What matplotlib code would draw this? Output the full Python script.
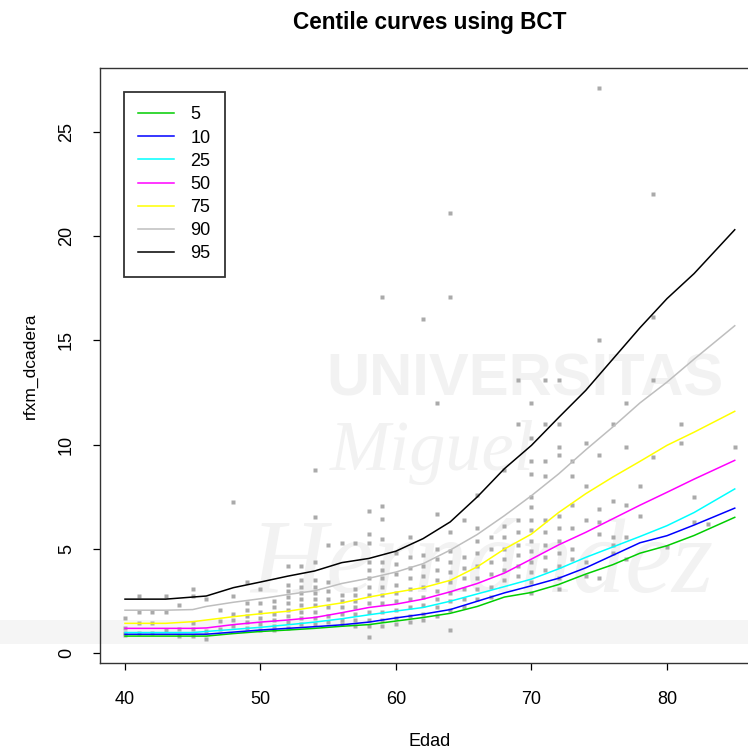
import matplotlib
matplotlib.use("Agg")
import matplotlib.pyplot as plt
from matplotlib.patches import Rectangle

plt.rcParams['font.family'] = ['Liberation Sans', 'DejaVu Sans']

# centile curves (age grid shared by all curves)
ages = [40, 43, 45, 46, 48, 50, 52, 54, 56, 58, 60, 62, 64, 66, 68, 70, 72, 74, 76, 78, 80, 82, 85]
c5 = [0.83, 0.83, 0.83, 0.83, 0.95, 1.05, 1.12, 1.20, 1.30, 1.38, 1.55, 1.72, 1.92, 2.25, 2.70, 2.92, 3.30, 3.80, 4.25, 4.80, 5.16, 5.65, 6.52]
c10 = [0.92, 0.92, 0.92, 0.92, 1.02, 1.12, 1.20, 1.28, 1.37, 1.50, 1.70, 1.88, 2.10, 2.50, 2.90, 3.24, 3.60, 4.10, 4.70, 5.30, 5.64, 6.15, 6.96]
c25 = [1.00, 1.00, 1.00, 1.05, 1.15, 1.25, 1.37, 1.50, 1.66, 1.85, 2.03, 2.20, 2.50, 2.85, 3.20, 3.56, 4.05, 4.60, 5.10, 5.60, 6.12, 6.75, 7.88]
c50 = [1.20, 1.20, 1.20, 1.22, 1.38, 1.50, 1.60, 1.72, 1.95, 2.20, 2.36, 2.60, 2.95, 3.35, 3.85, 4.52, 5.20, 5.80, 6.45, 7.10, 7.72, 8.35, 9.25]
c75 = [1.44, 1.44, 1.52, 1.60, 1.76, 1.90, 2.02, 2.22, 2.42, 2.70, 2.93, 3.15, 3.50, 4.15, 5.00, 5.72, 6.75, 7.65, 8.45, 9.20, 9.97, 10.6, 11.6]
c90 = [2.07, 2.07, 2.10, 2.25, 2.45, 2.62, 2.82, 3.00, 3.35, 3.60, 3.90, 4.30, 4.95, 5.70, 6.60, 7.56, 8.60, 9.75, 10.85, 12.0, 13.0, 14.1, 15.7]
c95 = [2.60, 2.60, 2.70, 2.75, 3.15, 3.42, 3.70, 3.95, 4.35, 4.55, 4.90, 5.50, 6.30, 7.50, 8.85, 9.97, 11.3, 12.6, 14.1, 15.6, 17.0, 18.2, 20.3]
centiles = ["5", "10", "25", "50", "75", "90", "95"]
colors = ["#00CD00", "#0000FF", "#00FFFF", "#FF00FF", "#FFFF00", "#BEBEBE", "#000000"]

# observations, grouped by age
obs_ages = list(range(40, 80)) + [80, 81, 82, 83, 85]
obs_vals = [
    [1.7, 1.2, 1.0, 0.9],
    [2.76, 1.96, 1.47, 1.0],
    [1.96, 1.47, 1.0],
    [2.76, 1.96, 1.1],
    [2.3, 1.15, 0.83],
    [3.08, 2.76, 1.47, 1.15, 0.83],
    [2.6, 1.07, 0.67],
    [2.1, 1.55, 1.15],
    [7.25, 2.76, 1.9, 1.6, 1.3],
    [3.4, 2.4, 2.1, 1.8, 1.5, 1.2],
    [3.1, 2.4, 2.0, 1.7, 1.4, 1.1],
    [2.5, 2.2, 1.9, 1.6, 1.3, 1.1],
    [4.2, 3.3, 3.0, 2.7, 2.4, 2.1, 1.8, 1.5, 1.2],
    [4.2, 3.5, 3.2, 2.9, 2.6, 2.3, 2.0, 1.7, 1.4],
    [8.8, 6.55, 4.4, 3.5, 3.2, 2.9, 2.6, 2.3, 2.0, 1.7, 1.4],
    [5.2, 3.4, 3.0, 2.6, 2.2, 1.8, 1.5],
    [5.3, 2.8, 2.5, 2.2, 1.9, 1.6, 1.4],
    [5.3, 3.1, 2.8, 2.5, 2.2, 1.9, 1.6, 1.3],
    [6.8, 5.7, 5.3, 4.4, 4.0, 3.6, 3.2, 2.8, 2.4, 2.0, 1.6, 1.3, 0.8],
    [17.1, 7.05, 6.45, 5.5, 4.4, 4.0, 3.6, 3.2, 2.8, 2.4, 2.0, 1.6, 1.3],
    [4.8, 4.3, 3.8, 3.3, 2.9, 2.5, 2.1, 1.7, 1.4],
    [5.6, 4.6, 4.1, 3.6, 3.1, 2.6, 2.2, 1.8, 1.5],
    [16.0, 4.7, 4.2, 3.7, 3.2, 2.7, 2.3, 1.9, 1.6],
    [12.0, 6.7, 5.0, 4.5, 4.0, 3.5, 3.0, 2.6, 2.2, 1.8],
    [21.1, 17.1, 5.8, 4.9, 4.4, 3.9, 3.4, 2.9, 2.5, 2.1, 1.1],
    [6.4, 4.6, 4.1, 3.6, 3.1, 2.6, 2.2],
    [7.6, 6.0, 5.4, 4.8, 4.2, 3.6, 3.1, 2.6],
    [5.6, 5.0, 4.4, 3.8, 3.2, 2.7],
    [8.8, 6.1, 5.6, 5.0, 4.5, 4.0, 3.5],
    [13.1, 11.0, 6.4, 5.8, 5.2, 4.7, 4.2, 3.7],
    [12.0, 10.3, 9.2, 8.6, 7.5, 7.0, 6.4, 5.9, 5.4, 4.9, 4.4, 3.9, 3.4, 2.9],
    [13.1, 11.0, 9.2, 8.5, 6.4, 5.8, 5.2, 4.6, 4.0],
    [13.1, 11.0, 9.9, 9.5, 6.6, 6.0, 5.4, 4.8, 4.2, 3.6, 3.1],
    [9.2, 8.5, 7.1, 6.0, 5.0, 4.5],
    [10.1, 8.0, 6.4, 4.4, 3.7],
    [27.1, 15.0, 9.5, 6.9, 6.3, 5.7, 3.6],
    [11.0, 7.3, 5.6, 5.2, 4.8],
    [12.0, 9.9, 7.1, 5.6, 4.5],
    [8.0, 6.6],
    [22.0, 16.1, 13.1, 9.4],
    [5.1],
    [11.0, 10.1],
    [7.5, 6.3],
    [6.2],
    [9.9],
]

W, H = 748, 754
fig = plt.figure(figsize=(W / 100, H / 100), dpi=100)

# faint watermark of the source page
wm = "#f2f2f2"
fig.patches.append(Rectangle((0, 1 - 644 / H), 1, 24 / H, transform=fig.transFigure,
                             facecolor="#f5f5f5", edgecolor="none", zorder=-5))
fig.text(326 / W, 1 - 395 / H, "UNIVERSITAS", fontsize=43, fontweight="bold",
         color=wm, zorder=-5)
fig.text(330 / W, 1 - 470 / H, "Miguel", fontsize=52, style="italic",
         family=["Liberation Serif"], color=wm, zorder=-5)
fig.text(250 / W, 1 - 592 / H, "Hernández", fontsize=76, style="italic",
         family=["Liberation Serif"], color=wm, zorder=-5)

ax = fig.add_axes([100 / W, 1 - 663 / H, 659 / W, 595 / H])
ax.set_facecolor("none")

px, py = [], []
for a, vals in zip(obs_ages, obs_vals):
    for v in vals:
        px.append(a)
        py.append(v)
ax.plot(px, py, "s", ms=3.0, color="#aaaaaa", mec="none", zorder=2)

for vals, lab, col in zip([c5, c10, c25, c50, c75, c90, c95], centiles, colors):
    ax.plot(ages, vals, color=col, lw=1.1, label=lab, zorder=3)

ax.set_xlim(38.155, 86.79)
ax.set_ylim(-0.46, 28.05)
ax.set_xticks([40, 50, 60, 70, 80])
ax.set_yticks([0, 5, 10, 15, 20, 25])
ax.tick_params(direction="out", length=5, width=0.9, labelsize=13)
ax.tick_params(axis="x", pad=15)
ax.tick_params(axis="y", pad=13)
for t in ax.get_yticklabels():
    t.set_rotation(90)
    t.set_va("center")
for s in ax.spines.values():
    s.set_linewidth(1.0)
    s.set_color("#333333")

ax.set_xlabel("Edad", fontsize=13, va="center")
ax.xaxis.set_label_coords(0.5, -(742 - 663) / 595)
ax.set_ylabel("rfxm_dcadera", fontsize=12.5, va="center")
ax.yaxis.set_label_coords(-(100 - 30) / 659, 0.5)
ax.set_title("Centile curves using BCT", fontsize=16.3, fontweight="bold", pad=0,
             y=1 + (68 - 23) / 595, va="center")

leg = ax.legend(loc="upper left", fontsize=13, frameon=True, fancybox=False, framealpha=1,
                edgecolor="#333333", borderaxespad=1.33, borderpad=0.8,
                handlelength=1.95, handletextpad=0.93, labelspacing=0.34)
leg.get_frame().set_linewidth(1.3)

fig.savefig("out.png", dpi=100)
